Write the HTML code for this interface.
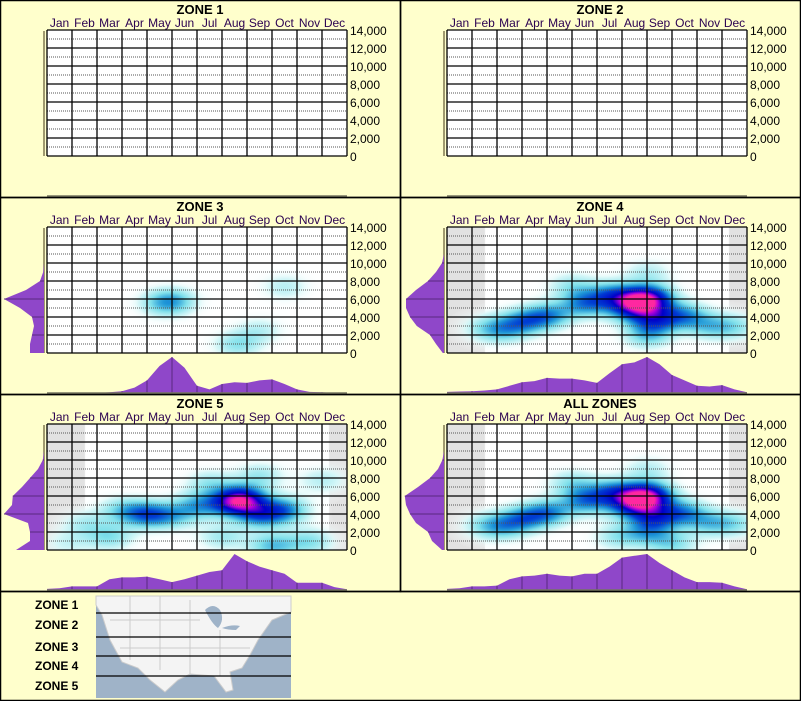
<!DOCTYPE html>
<html><head><meta charset="utf-8"><style>
body{margin:0;background:#FFFFCC;}
#root{position:relative;width:801px;height:701px;overflow:hidden;background:#FFFFCC;font-family:"Liberation Sans",Arial,sans-serif;}
canvas{position:absolute;}
svg{position:absolute;left:0;top:0;}
</style></head><body>
<div id="root">
<svg id="s" width="801" height="701"></svg>
</div>
<script>
const months=["Jan","Feb","Mar","Apr","May","Jun","Jul","Aug","Sep","Oct","Nov","Dec"];
const yTicks=[0,2000,4000,6000,8000,10000,12000,14000];
const yTickLabels=["0","2,000","4,000","6,000","8,000","10,000","12,000","14,000"];
const zoneNames=["ZONE 1","ZONE 2","ZONE 3","ZONE 4","ZONE 5","ALL ZONES"];
const left3=[0.35,0.35,0.3,0.25,0.3,0.6,1.0,0.45,0.1,0.02,0,0,0,0,0];
const left4=[0.03,0.2,0.35,0.68,0.85,0.95,0.95,0.7,0.4,0.2,0.05,0,0,0,0];
const left5=[0.7,0.35,0.35,0.4,1.0,0.8,0.78,0.55,0.35,0.15,0.03,0,0,0,0];
const leftAll=[0.05,0.3,0.4,0.7,0.85,0.95,0.98,0.65,0.35,0.15,0.04,0,0,0,0];
const bot3=[0,0,0,0,0,0.02,0.05,0.15,0.35,0.75,1.0,0.7,0.2,0.1,0.25,0.3,0.28,0.35,0.38,0.25,0.1,0.03,0.02,0,0];
const bot4=[0.03,0.04,0.05,0.07,0.1,0.2,0.3,0.33,0.42,0.4,0.4,0.35,0.28,0.55,0.8,0.85,1.0,0.8,0.5,0.35,0.2,0.18,0.22,0.1,0.02];
const bot5=[0.03,0.05,0.1,0.1,0.1,0.3,0.35,0.35,0.37,0.3,0.22,0.3,0.4,0.5,0.55,1.0,0.8,0.65,0.55,0.45,0.2,0.2,0.2,0.08,0.02];
const botAll=[0.03,0.05,0.1,0.1,0.12,0.3,0.38,0.4,0.45,0.4,0.38,0.45,0.45,0.65,0.9,0.95,1.0,0.75,0.55,0.35,0.22,0.22,0.2,0.1,0.02];
const blobMonth3=[5.0,9.5,8.5,7.6,4.5];
const blobAlt3=[5800,7400,2600,1000,5500];
const blobW3=[0.3,0.15,0.14,0.22,0.14];
const blobMonth4=[7.7,8.2,8.3,6.6,5.5,4.0,3.0,9.5,10.5,11.5,1.5,8.0,8.0,5.0,7.2,2.2];
const blobAlt4=[5800,6200,3800,6500,5500,4200,3500,4200,3000,3000,2800,9000,2000,7500,4800,2600];
const blobW4=[0.85,0.5,0.6,0.5,0.5,0.5,0.45,0.45,0.3,0.25,0.2,0.2,0.35,0.25,0.35,0.3];
const blobMonth5=[7.8,7.3,8.5,9.5,4.0,3.0,6.0,10.5,8.5,11.0,2.5,1.5,7.0,6.5,0.8,9.0,5.0];
const blobAlt5=[5700,5200,4000,4500,4000,4500,5000,1000,8300,7800,1500,3000,1500,7500,800,500,3800];
const blobW5=[0.85,0.45,0.55,0.5,0.55,0.3,0.4,0.3,0.25,0.2,0.3,0.2,0.25,0.25,0.15,0.4,0.3];
const blobMonthAll=[7.7,8.2,8.3,6.6,5.5,4.0,3.0,9.5,10.5,11.5,1.5,8.0,8.0,5.0,7.2,2.2,9.0,6.8];
const blobAltAll=[5800,6200,3800,6500,5500,4200,3500,4200,3000,3000,2800,9000,2000,7500,4800,2600,700,1500];
const blobWAll=[0.85,0.5,0.6,0.5,0.5,0.5,0.45,0.45,0.3,0.25,0.22,0.2,0.35,0.28,0.35,0.3,0.3,0.25];

const panels=[
 {x:0,y:0},{x:400,y:0},
 {x:0,y:197,left:left3,bot:bot3,bm:blobMonth3,ba:blobAlt3,bw:blobW3,gray:false,k:1},
 {x:400,y:197,left:left4,bot:bot4,bm:blobMonth4,ba:blobAlt4,bw:blobW4,gray:true,k:0.76},
 {x:0,y:394,left:left5,bot:bot5,bm:blobMonth5,ba:blobAlt5,bw:blobW5,gray:true,k:0.76},
 {x:400,y:394,left:leftAll,bot:botAll,bm:blobMonthAll,ba:blobAltAll,bw:blobWAll,gray:true,k:0.76}];

const NS="http://www.w3.org/2000/svg";
const svg=document.getElementById('s');
const root=document.getElementById('root');
function mk(tag,attrs,parent){const e=document.createElementNS(NS,tag);for(const k in attrs)e.setAttribute(k,attrs[k]);(parent||svg).appendChild(e);return e;}
const PW=300,PH=126,PX=47,PY=30;
function xm(px,m){return px+PX+m*(PW/12);}
function ya(py,a){return py+PY+PH-a/14000*PH;}
const stops=[[0,255,255,255],[0.08,225,250,250],[0.25,130,225,235],[0.4,30,150,215],[0.54,0,60,210],[0.72,0,0,200],[0.86,180,0,220],[0.96,255,40,160],[2,255,40,160]];
function ramp(v){for(let i=0;i<stops.length-1;i++){const a=stops[i],b=stops[i+1];if(v<=b[0]){const t=(v-a[0])/(b[0]-a[0]);return [a[1]+(b[1]-a[1])*t,a[2]+(b[2]-a[2])*t,a[3]+(b[3]-a[3])*t];}}return [255,40,160];}

panels.forEach((p,i)=>{
 const g=mk('g',{});
 
 
 const border=mk('rect',{x:p.x+0.5,y:p.y+0.5,width:400,height:197,fill:'none',stroke:'#000','stroke-width':1.5},g);
 
 
 const c=document.createElement('canvas');
 c.width=PW;c.height=PH;c.style.left=(p.x+PX)+'px';c.style.top=(p.y+PY)+'px';
 
 
 root.insertBefore(c,svg);
 const ctx=c.getContext('2d');
 ctx.fillStyle='#fff';ctx.fillRect(0,0,PW,PH);
 if(p.gray){ctx.fillStyle='#e2e2e2';ctx.fillRect(0,0,38,PH);ctx.fillRect(282,0,18,PH);}
 if(p.bm){
  const img=ctx.getImageData(0,0,PW,PH);
  for(let yy=0;yy<PH;yy++)for(let xx=0;xx<PW;xx++){
   const m=xx/PW*12,a=(PH-yy)/PH*14000;let v=0;
   for(let k=0;k<p.bm.length;k++){const dx=(m-p.bm[k])/0.68,dy=(a-p.ba[k])/1050;v+=p.bw[k]*Math.exp(-(dx*dx+dy*dy)/2);}
   v*=p.k;
   if(v<0.01)continue;
   const col=ramp(Math.min(v,1));const al=Math.min(1,v/0.1);
   const o=(yy*PW+xx)*4;
   for(let q=0;q<3;q++)img.data[o+q]=img.data[o+q]*(1-al)+col[q]*al;
  }
  ctx.putImageData(img,0,0);
 }
 for(let a=1000;a<14000;a+=2000){mk('line',{x1:p.x+PX,x2:p.x+PX+PW,y1:ya(p.y,a),y2:ya(p.y,a),stroke:'#555','stroke-width':1,'stroke-dasharray':'1,1'},g);}
 yTicks.forEach(a=>{mk('line',{x1:p.x+PX,x2:p.x+PX+PW,y1:ya(p.y,a),y2:ya(p.y,a),stroke:'#000','stroke-width':1.3},g);});
 for(let m=0;m<=12;m++){mk('line',{x1:xm(p.x,m),x2:xm(p.x,m),y1:p.y+PY,y2:p.y+PY+PH,stroke:'#000','stroke-width':1.3},g);}
 mk('line',{x1:p.x+44,x2:p.x+44,y1:p.y+31,y2:p.y+156,stroke:'#807850','stroke-width':1.5},g);
 const t=mk('text',{x:p.x+200,y:p.y+14,'text-anchor':'middle','font-size':13,'font-weight':'bold',fill:'#000'},g);
 t.textContent=zoneNames[i];
 
 
 months.forEach((mn,k)=>{const e=mk('text',{x:xm(p.x,k+0.5),y:p.y+27,'text-anchor':'middle','font-size':12,fill:'#2a0050'},g);e.textContent=mn;
  
  });
 yTicks.forEach((a,k)=>{const e=mk('text',{x:p.x+350,y:ya(p.y,a)+5,'font-size':12,fill:'#000'},g);e.textContent=yTickLabels[k];
  
  });
 if(p.bot){
  let d='M'+xm(p.x,0)+','+(p.y+196);
  p.bot.forEach((v,k)=>{d+=' L'+xm(p.x,k*0.5)+','+(p.y+196-v*36);});
  d+=' L'+xm(p.x,12)+','+(p.y+196)+'Z';
  const e=mk('path',{d:d,fill:'#8f47c9'},g);
  
  
  for(let m=1;m<12;m++){const v=p.bot[m*2];mk('line',{x1:xm(p.x,m),x2:xm(p.x,m),y1:p.y+196-v*36,y2:p.y+196,stroke:'#5a2a80','stroke-width':1},g);}
  let d2='M'+(p.x+44)+','+ya(p.y,0);
  p.left.forEach((v,k)=>{d2+=' L'+(p.x+44-v*40)+','+ya(p.y,k*1000);});
  d2+=' L'+(p.x+44)+','+ya(p.y,14000)+'Z';
  const e2=mk('path',{d:d2,fill:'#8f47c9'},g);
  
  
  for(let a=2000;a<14000;a+=2000){const v=p.left[a/1000];if(v>0)mk('line',{x1:p.x+44-v*40,x2:p.x+44,y1:ya(p.y,a),y2:ya(p.y,a),stroke:'#5a2a80','stroke-width':1},g);}
 }
 mk('line',{x1:p.x+47,x2:p.x+347,y1:p.y+196,y2:p.y+196,stroke:'#777760','stroke-width':1.5},g);
});
mk('rect',{x:0.5,y:591.5,width:800,height:109,fill:'none',stroke:'#000','stroke-width':1.5});
const map=mk('g',{});


mk('rect',{x:96,y:596,width:195,height:102,fill:'#9fb3c8'},map);
mk('path',{d:'M96,596 L291,596 L291,612 L272,620 L258,640 L250,655 L242,668 L230,672 L233,690 L226,692 L214,676 L190,674 L178,680 L165,692 L150,680 L138,668 L122,662 L110,640 L102,615 L96,605 Z',fill:'#f4f4f4',stroke:'#ccc'},map);
mk('path',{d:'M205,610 q8,-8 15,0 q5,10 -2,18 q-6,-4 -13,-18 Z M222,628 q10,-4 18,-2 l-4,4 q-8,0 -14,-2Z',fill:'#9fb3c8'},map);
[[130,596,130,660],[160,596,160,670],[190,600,190,675],[220,630,220,676],[110,620,200,620],[120,648,250,648]].forEach(l=>mk('line',{x1:l[0],y1:l[1],x2:l[2],y2:l[3],stroke:'#ccc','stroke-width':1},map));
[613,637,656,676].forEach(y=>mk('line',{x1:96,x2:291,y1:y,y2:y,stroke:'#000','stroke-width':1.3},map));
const labY=[609,629,651,670,690];
labY.forEach((y,k)=>{const e=mk('text',{x:35,y:y,'font-size':12,'font-weight':'bold',fill:'#000'});e.textContent='ZONE '+(k+1);
 
 });
</script>
</body></html>
